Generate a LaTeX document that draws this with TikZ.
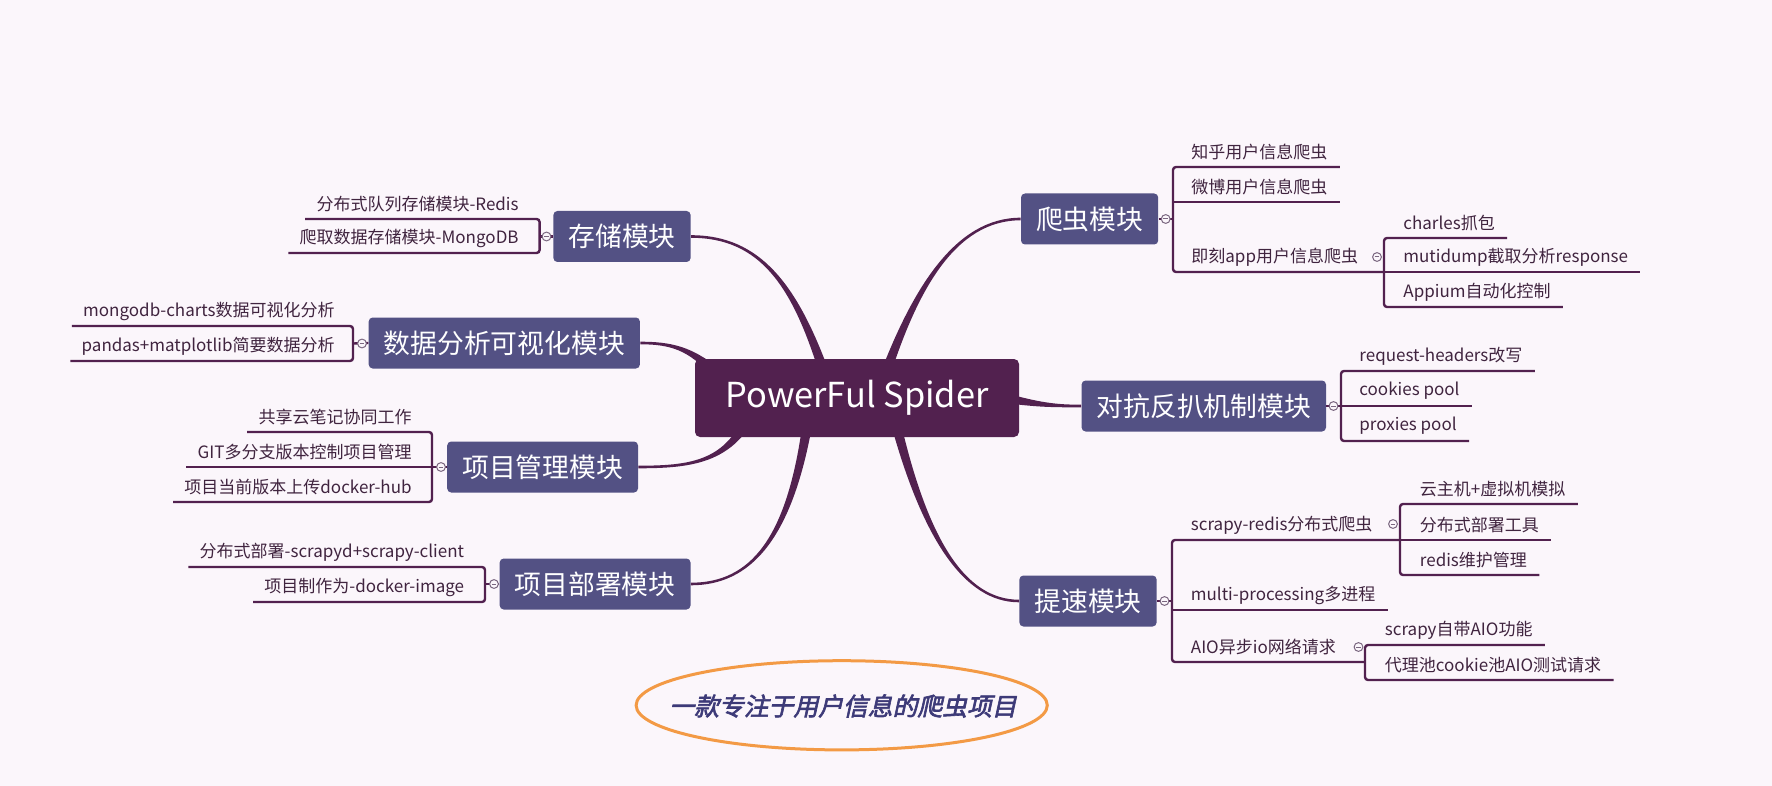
\documentclass[tikz,border=0pt]{standalone}
\usepackage{fontspec}
\setmainfont{Noto Sans CJK SC}
\newfontfamily\notefont[FakeSlant=0.22,FakeBold=2.5]{Noto Sans CJK SC}
\usetikzlibrary{positioning,calc,shapes.geometric}
\definecolor{bgc}{HTML}{FBF6FB}
\definecolor{mainc}{HTML}{52214F}
\definecolor{topicc}{HTML}{535184}
\definecolor{linec}{HTML}{52214F}
\definecolor{leafc}{HTML}{40243F}
\definecolor{foldc}{HTML}{7A6780}
\definecolor{notec}{HTML}{3D3A78}
\definecolor{ovalc}{HTML}{F39A45}
\newcommand\branch[6]{\fill[linec] ($#1+#5$) .. controls ($#2+0.5*#5$) and ($#3+#6$) .. ($#4+#6$) -- ($#4-#6$) .. controls ($#3-#6$) and ($#2-0.5*#5$) .. ($#1-#5$) -- cycle;}

\begin{document}
\begin{tikzpicture}[x=0.5pt,y=-0.5pt,
  mainbox/.style={rectangle, rounded corners=2.5pt, fill=mainc, text=white, font=\fontsize{17.2pt}{20pt}\selectfont, minimum width=162pt, minimum height=39pt},
  topicbox/.style={rectangle, rounded corners=2pt, fill=topicc, text=white, font=\fontsize{13.4pt}{15pt}\selectfont, minimum height=25.5pt, inner xsep=7.5pt},
  leaftext/.style={inner sep=0pt, text=leafc, font=\fontsize{8.5pt}{10pt}\selectfont},
  lnk/.style={draw=linec, line width=1.2pt},
  foldmark/.style={circle, draw=foldc, fill=bgc, line width=0.5pt, inner sep=0pt, minimum size=4.4pt,
    path picture={\draw[foldc, line width=0.5pt] ([xshift=1pt]path picture bounding box.west) -- ([xshift=-1pt]path picture bounding box.east);}},
  notetext/.style={inner sep=0pt, text=notec, font=\notefont\fontsize{12.4pt}{14pt}\selectfont}]
\useasboundingbox (0,0) rectangle (1772,786);
\fill[bgc] (0,0) rectangle (1772,786);

\node[topicbox, anchor=east] (pc) at (1158.6,219) {爬虫模块};
\node[topicbox, anchor=east] (fp) at (1326.4,406) {对抗反扒机制模块};
\node[topicbox, anchor=east] (ts) at (1157,601) {提速模块};
\node[topicbox, anchor=west] (cc) at (553,236.5) {存储模块};
\node[topicbox, anchor=west] (sj) at (368.3,343) {数据分析可视化模块};
\node[topicbox, anchor=west] (gl) at (446.8,467) {项目管理模块};
\node[topicbox, anchor=west] (bs) at (499.3,584) {项目部署模块};

\branch{(885,375)}{(915,290)}{(955,219)}{(pc.west)}{(4.7,1.7)}{(0,1.3)}
\branch{(825,375)}{(795,285)}{(760,236.5)}{(cc.east)}{(4.7,-1.6)}{(0,-1.3)}
\branch{(715,372)}{(690,348)}{(670,343)}{(sj.east)}{(3.5,-3.6)}{(0,-1.3)}
\branch{(748,420)}{(725,462)}{(690,467)}{(gl.east)}{(-4.4,-2.4)}{(0,-1.3)}
\branch{(808,420)}{(790,540)}{(750,584)}{(bs.east)}{(-4.9,-0.8)}{(0,-1.3)}
\branch{(895,420)}{(925,540)}{(965,601)}{(ts.west)}{(-4.85,1.2)}{(0,1.3)}
\branch{(1005,398)}{(1040,405)}{(1055,406)}{(fp.west)}{(0,5)}{(0,1.3)}

\node[mainbox] (ctr) at (857,398) {PowerFul Spider};

\node[leaftext, anchor=west] (zh) at (1191,152) {知乎用户信息爬虫};
\node[leaftext, anchor=west] (wb) at (1191,187) {微博用户信息爬虫};
\node[leaftext, anchor=west] (jk) at (1191,257) {即刻app用户信息爬虫};
\node[leaftext, anchor=west] (ch) at (1403,223) {charles抓包};
\node[leaftext, anchor=west] (mu) at (1403,257) {mutidump截取分析response};
\node[leaftext, anchor=west] (ap) at (1403,292) {Appium自动化控制};
\node[leaftext, anchor=west] (rh) at (1359,356) {request-headers改写};
\node[leaftext, anchor=west] (ck) at (1359,391) {cookies pool};
\node[leaftext, anchor=west] (px) at (1359,426) {proxies pool};
\node[leaftext, anchor=west] (sr) at (1190.5,525) {scrapy-redis分布式爬虫};
\node[leaftext, anchor=west] (mp) at (1190.5,595) {multi-processing多进程};
\node[leaftext, anchor=west] (ai) at (1190.5,647) {AIO异步io网络请求};
\node[leaftext, anchor=west] (yz) at (1419.5,489) {云主机+虚拟机模拟};
\node[leaftext, anchor=west] (fb) at (1419.5,525) {分布式部署工具};
\node[leaftext, anchor=west] (rd) at (1419.5,560) {redis维护管理};
\node[leaftext, anchor=west] (sa) at (1384.5,630) {scrapy自带AIO功能};
\node[leaftext, anchor=west] (dl) at (1384.5,665) {代理池cookie池AIO测试请求};

\node[leaftext, anchor=east] (rs) at (519,204) {分布式队列存储模块-Redis};
\node[leaftext, anchor=east] (mg) at (519,238) {爬取数据存储模块-MongoDB};
\node[leaftext, anchor=east] (mc) at (335,311) {mongodb-charts数据可视化分析};
\node[leaftext, anchor=east] (pd) at (335,346) {pandas+matplotlib简要数据分析};
\node[leaftext, anchor=east] (gx) at (412,417) {共享云笔记协同工作};
\node[leaftext, anchor=east] (gt) at (412,452) {GIT多分支版本控制项目管理};
\node[leaftext, anchor=east] (sc) at (412,487) {项目当前版本上传docker-hub};
\node[leaftext, anchor=east] (sp) at (464.5,552) {分布式部署-scrapyd+scrapy-client};
\node[leaftext, anchor=east] (dk) at (464.5,587) {项目制作为-docker-image};

\draw[lnk, rounded corners=1.5pt] ($(zh.east)+(12,15)$) -- (1173,167) -- (1173,272) -- (1384,272);
\draw[lnk] (1173,202) -- ($(wb.east)+(12,15)$);
\draw[lnk, rounded corners=1.5pt] ($(ch.east)+(12,15)$) -- (1384,238) -- (1384,307) -- ($(ap.east)+(12,15)$);
\draw[lnk] (1384,272) -- ($(mu.east)+(12,15)$);
\draw[lnk, rounded corners=1.5pt] ($(rh.east)+(12,15)$) -- (1341,371) -- (1341,441) -- ($(px.east)+(12,15)$);
\draw[lnk] (1341,406) -- ($(ck.east)+(12,15)$);
\draw[lnk, rounded corners=1.5pt] (1400,540) -- (1172,540) -- (1172,662) -- (1365,662);
\draw[lnk] (1172,610) -- ($(mp.east)+(12,15)$);
\draw[lnk, rounded corners=1.5pt] ($(yz.east)+(12,15)$) -- (1400,504) -- (1400,575) -- ($(rd.east)+(12,15)$);
\draw[lnk] (1400,540) -- ($(fb.east)+(12,15)$);
\draw[lnk, rounded corners=1.5pt] ($(sa.east)+(12,15)$) -- (1365,645) -- (1365,680) -- ($(dl.east)+(12,15)$);

\draw[lnk, rounded corners=1.5pt] ($(rs.west)+(-11,15)$) -- (539.6,219) -- (539.6,253) -- ($(mg.west)+(-11,15)$);
\draw[lnk, rounded corners=1.5pt] ($(mc.west)+(-11,15)$) -- (353,326) -- (353,361) -- ($(pd.west)+(-11,15)$);
\draw[lnk, rounded corners=1.5pt] ($(gx.west)+(-11,15)$) -- (432,432) -- (432,502) -- ($(sc.west)+(-11,15)$);
\draw[lnk] (432,467) -- ($(gt.west)+(-11,15)$);
\draw[lnk, rounded corners=1.5pt] ($(sp.west)+(-11,15)$) -- (485,567) -- (485,602) -- ($(dk.west)+(-11,15)$);

\draw[lnk] (pc.east) -- (1173,219);
\draw[lnk] (fp.east) -- (1341,406);
\draw[lnk] (ts.east) -- (1172,601);
\draw[lnk] (cc.west) -- (539.6,236.5);
\draw[lnk] (sj.west) -- (353,343.5);
\draw[lnk] (gl.west) -- (432,467);
\draw[lnk] (bs.west) -- (485,584);

\node[foldmark] (pcf) at (1165.7,219) {};
\node[foldmark] (jkf) at (1377,257) {};
\node[foldmark] (fpf) at (1333.5,406) {};
\node[foldmark] (tsf) at (1164.5,601) {};
\node[foldmark] (srf) at (1393,524) {};
\node[foldmark] (aif) at (1358.5,647) {};
\node[foldmark] (ccf) at (546.5,236.5) {};
\node[foldmark] (sjf) at (362,343.5) {};
\node[foldmark] (glf) at (441,467) {};
\node[foldmark] (bsf) at (494,584) {};

\node[notetext] (nt) at (843,706) {一款专注于用户信息的爬虫项目};
\draw[ovalc, line width=1.5pt] (841.7,705.3) ellipse [x radius=102.8pt, y radius=22.3pt];
\end{tikzpicture}
\end{document}
